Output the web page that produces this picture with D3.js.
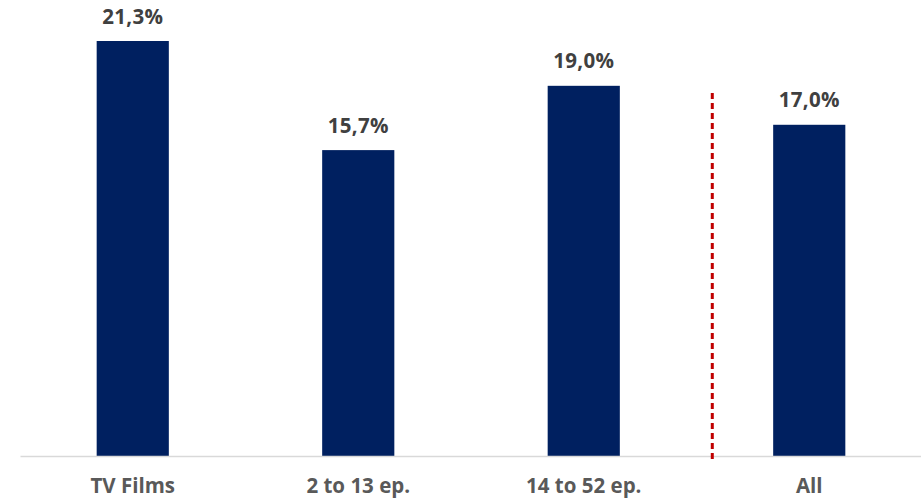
<!DOCTYPE html>
<html>
<head>
<meta charset="utf-8">
<script src="https://cdn.jsdelivr.net/npm/d3@7"></script>
<style>
  html, body { margin: 0; padding: 0; background: #fff; }
  svg { display: block; }
</style>
</head>
<body>
<svg id="chart" width="921" height="498"></svg>
<script>
// Share by programme format
const categories = ["TV Films", "2 to 13 ep.", "14 to 52 ep.", "All"];
const values = [21.3, 15.7, 19.0, 17.0];
const valueLabels = ["21,3%", "15,7%", "19,0%", "17,0%"];

const baseline = 456;
const FONT = "'Open Sans', 'DejaVu Sans', sans-serif";

const svg = d3.select("#chart");

const x = d3.scaleBand()
  .domain(categories)
  .range([20, 922])
  .paddingInner(0.68)
  .paddingOuter(0.34);

const y = d3.scaleLinear()
  .domain([0, 21.3])
  .range([baseline, 41]);

// bars
svg.append("g").selectAll("rect")
  .data(values)
  .join("rect")
  .attr("x", (d, i) => x(categories[i]))
  .attr("y", d => y(d))
  .attr("width", x.bandwidth())
  .attr("height", d => y(0) - y(d))
  .attr("fill", "#002060");

// baseline axis with category names
const ax = svg.append("g")
  .attr("transform", `translate(0,${baseline})`)
  .call(d3.axisBottom(x).tickSize(0));
ax.select(".domain").attr("stroke", "#d9d9d9").attr("stroke-width", 1.5);
ax.selectAll(".tick text")
  .attr("y", 37)
  .attr("dy", null)
  .attr("fill", "#595959")
  .attr("font-family", FONT)
  .attr("font-weight", "bold")
  .attr("font-size", 20.5);

// value labels
svg.append("g").selectAll("text")
  .data(values)
  .join("text")
  .attr("x", (d, i) => x(categories[i]) + x.bandwidth() / 2)
  .attr("y", d => y(d) - 17.5)
  .attr("text-anchor", "middle")
  .attr("fill", "#404040")
  .attr("font-family", FONT)
  .attr("font-weight", "bold")
  .attr("font-size", 20.5)
  .attr("letter-spacing", 0.3)
  .text((d, i) => valueLabels[i]);

// separator between the formats and the overall figure
const sepX = x(categories[2]) + x.bandwidth() / 2 + x.step() * 0.57;
svg.append("line")
  .attr("x1", sepX).attr("x2", sepX)
  .attr("y1", 93).attr("y2", 461)
  .attr("stroke", "#c00000")
  .attr("stroke-width", 3)
  .attr("stroke-dasharray", "6,4");
</script>
</body>
</html>
